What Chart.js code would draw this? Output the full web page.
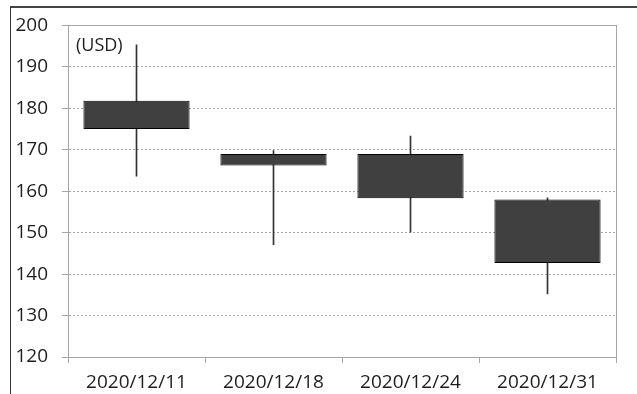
<!DOCTYPE html>
<html>
<head>
<meta charset="utf-8">
<script src="https://cdn.jsdelivr.net/npm/chart.js@4.4.0/dist/chart.umd.min.js"></script>
<style>
  html, body { margin: 0; padding: 0; background: #fff; }
  #wrap { position: relative; width: 637px; height: 394px; }
  #frame { position: absolute; left: 10px; top: 6px; right: 0; bottom: 0;
           border-left: 1px solid #333; border-top: 2px solid #444; pointer-events: none; }
</style>
</head>
<body>
<div id="wrap">
  <canvas id="chart" width="637" height="394"></canvas>
  <div id="frame"></div>
</div>
<script>
// weekly candles, USD
const dates = ['2020/12/11', '2020/12/18', '2020/12/24', '2020/12/31'];
const openVals = [181.8, 169.0, 169.0, 158.0];
const closeVals = [175.0, 166.2, 158.3, 142.7];
const highVals = [195.3, 169.8, 173.3, 158.4];
const lowVals = [163.6, 147.1, 150.1, 135.2];
const yTicks = [120, 130, 140, 150, 160, 170, 180, 190, 200];
const unitLabel = '(USD)';

const FONT = "'Open Sans', sans-serif";
const TEXT = '#1e1e1e';

// solid gray box round the plot area, plus the unit label
const plotFrame = {
    id: 'plotFrame',
    afterDraw(chart) {
        const { ctx, chartArea: a } = chart;
        ctx.save();
        ctx.strokeStyle = '#a6a6a6';
        ctx.lineWidth = 1;
        ctx.strokeRect(Math.round(a.left) + 0.5, Math.round(a.top) + 0.5,
            Math.round(a.right - a.left), Math.round(a.bottom - a.top));
        ctx.fillStyle = TEXT;
        ctx.font = '18px ' + FONT;
        ctx.textBaseline = 'middle';
        ctx.fillText(unitLabel, a.left + 8, a.top + 20);
        ctx.restore();
    }
};

new Chart(document.getElementById('chart'), {
    type: 'bar',
    data: {
        labels: dates,
        datasets: [
            {
                label: 'body',
                data: dates.map((d, i) => [closeVals[i], openVals[i]]),
                backgroundColor: '#404040',
                borderColor: '#000',
                borderWidth: 1,
                borderSkipped: false,
                categoryPercentage: 1,
                barPercentage: 0.775,
                grouped: false,
                order: 0
            },
            {
                label: 'wick',
                data: dates.map((d, i) => [lowVals[i], highVals[i]]),
                backgroundColor: '#333',
                borderWidth: 0,
                barThickness: 1,
                grouped: false,
                order: 1
            }
        ]
    },
    options: {
        responsive: false,
        animation: false,
        layout: { padding: { left: 0, right: 21, top: 21, bottom: 0 } },
        plugins: { legend: { display: false }, tooltip: { enabled: false } },
        scales: {
            x: {
                offset: true,
                grid: { offset: true, drawOnChartArea: false, color: '#a6a6a6', tickLength: 6 },
                border: { color: '#a6a6a6' },
                ticks: { color: TEXT, font: { family: FONT, size: 19 }, padding: 8, maxRotation: 0 },
                afterFit(scale) { scale.height = 37; }
            },
            y: {
                min: yTicks[0],
                max: yTicks[yTicks.length - 1],
                afterBuildTicks(scale) { scale.ticks = yTicks.map(v => ({ value: v })); },
                grid: { color: '#a6a6a6', tickLength: 6, tickBorderDash: [] },
                border: { color: '#a6a6a6', dash: [2, 2] },
                ticks: { color: TEXT, font: { family: FONT, size: 19 }, padding: 14 },
                afterFit(scale) { scale.width = 68; }
            }
        }
    },
    plugins: [plotFrame]
});
</script>
</body>
</html>
